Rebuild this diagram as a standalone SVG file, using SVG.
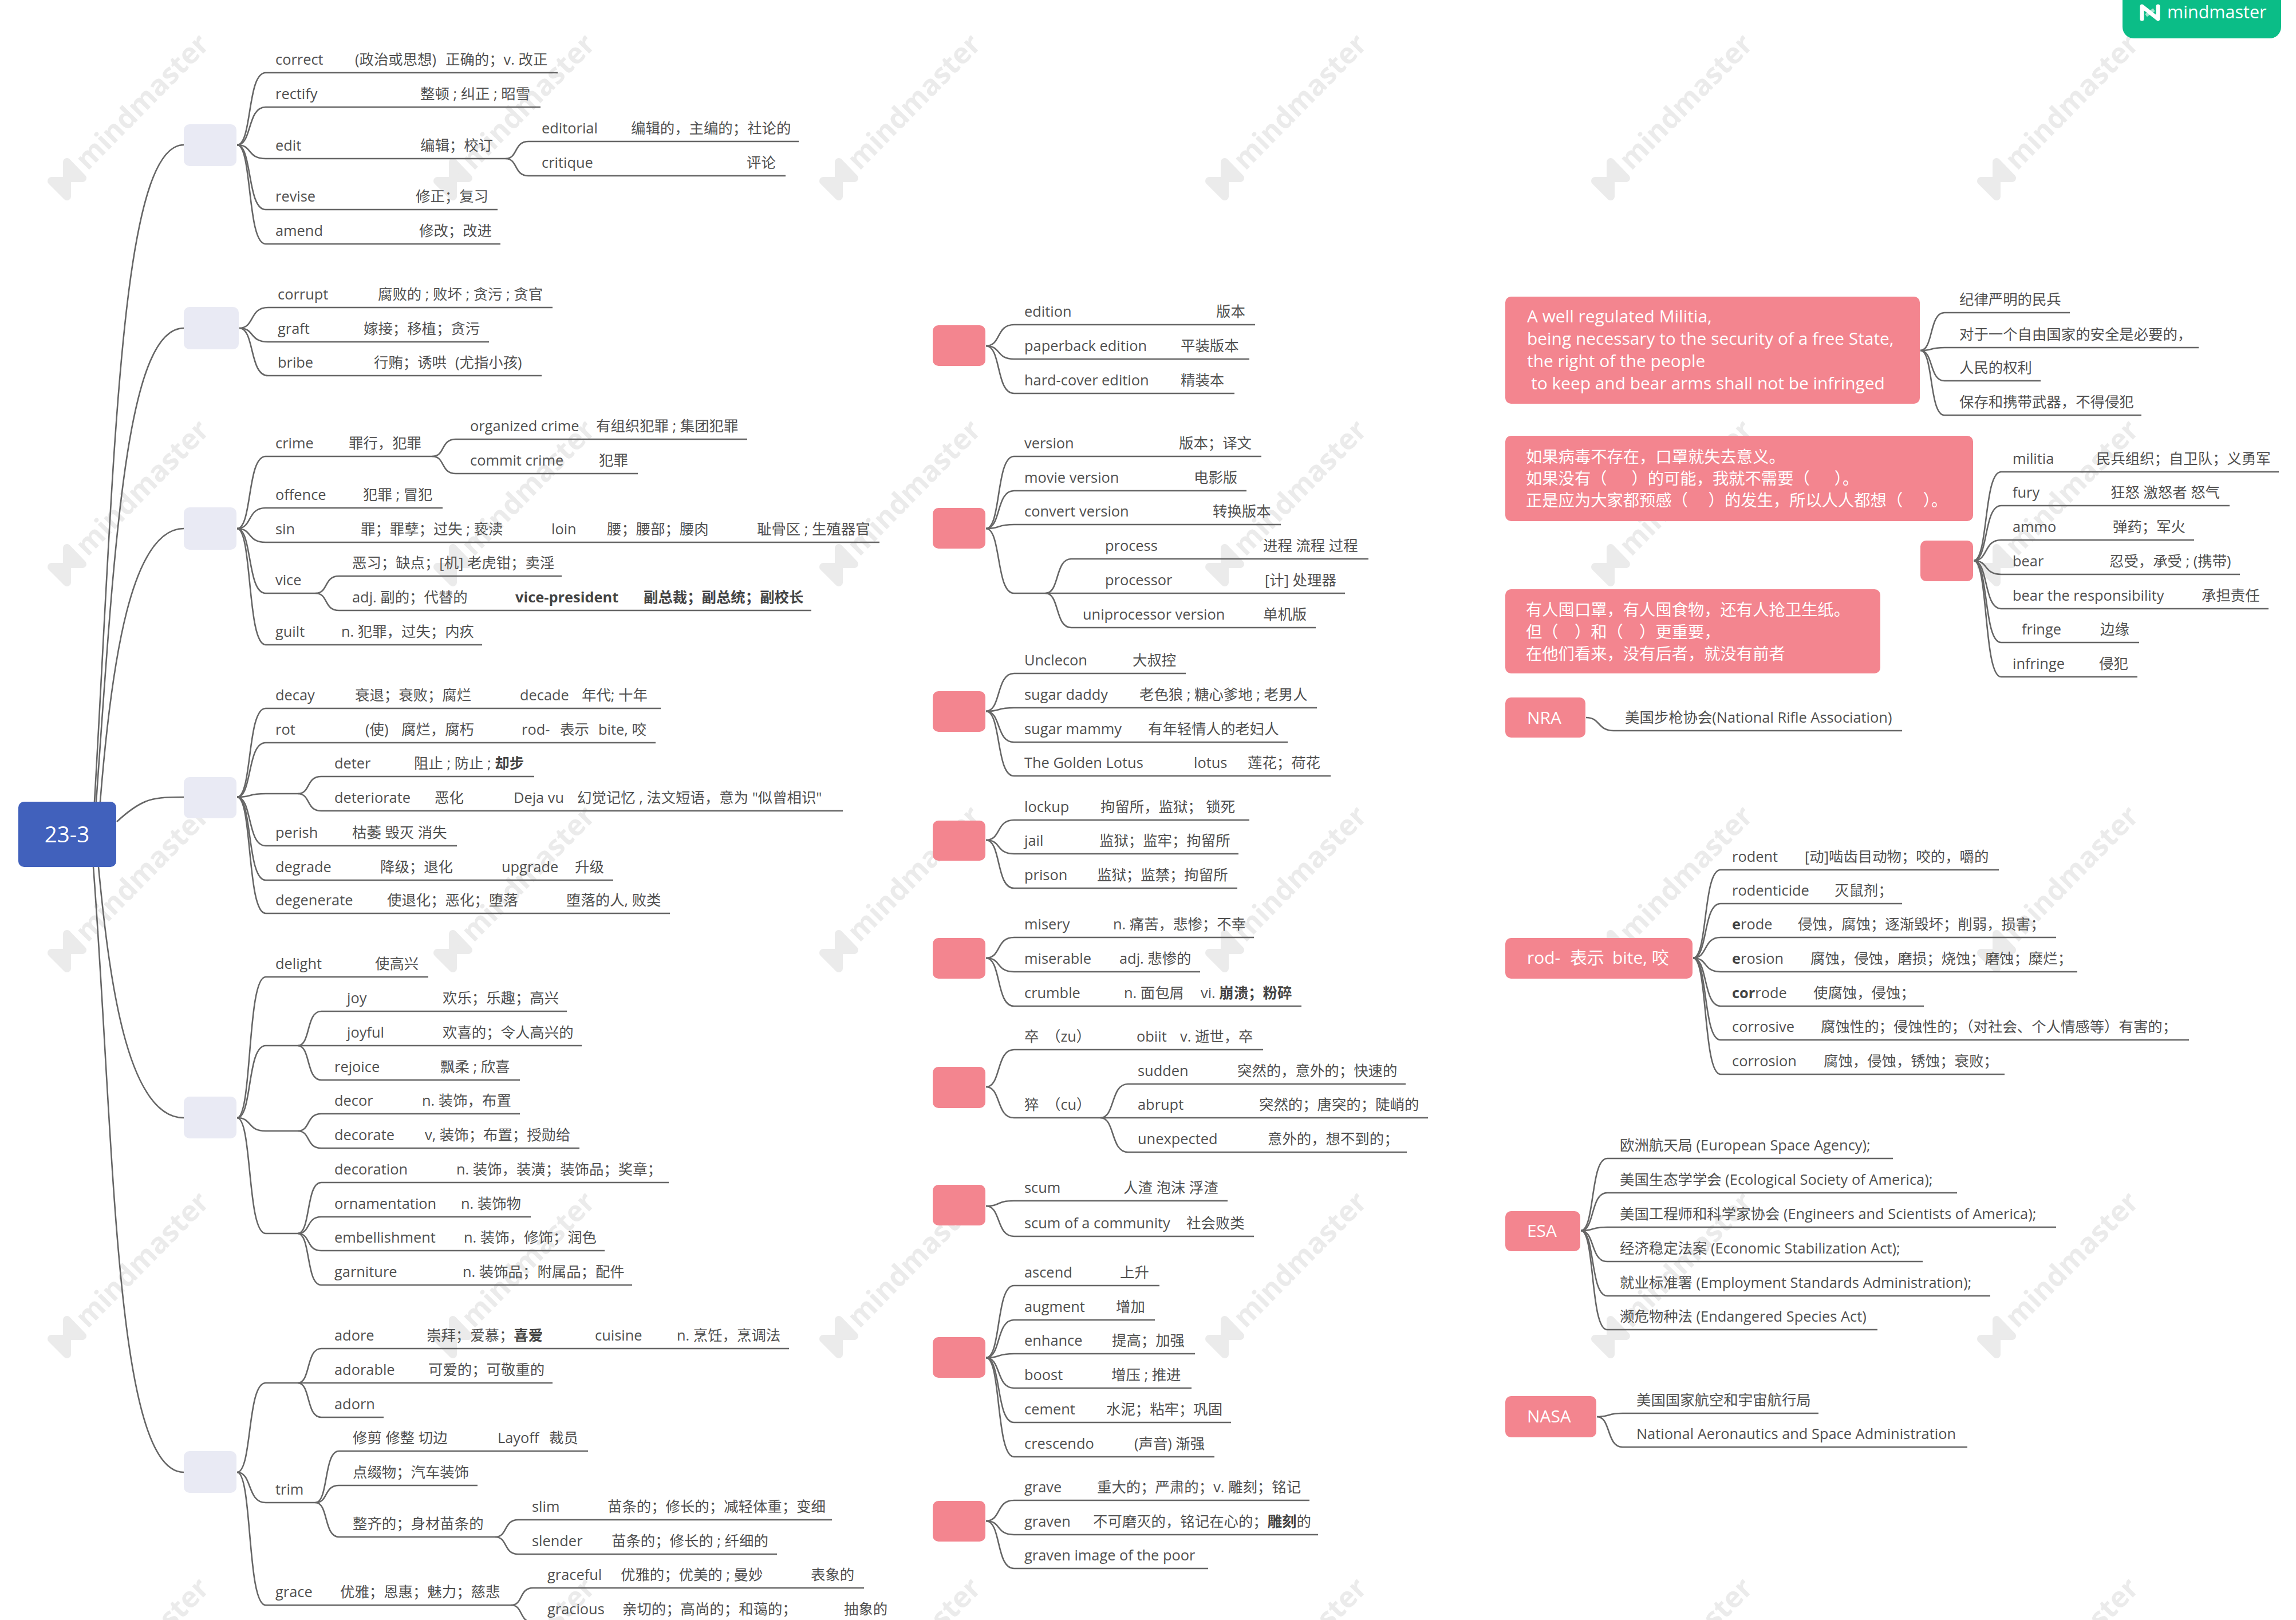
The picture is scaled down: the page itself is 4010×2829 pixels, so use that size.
<svg xmlns="http://www.w3.org/2000/svg" width="4010" height="2829" viewBox="0 0 4010 2829">
<style>
text{font-family:"Open Sans","Noto Sans CJK SC",sans-serif;font-size:25.4px;fill:#505050;transform:translateY(-1px)}
.b{font-weight:700;fill:#444}
text.w{font-size:28.3px;fill:#fff;transform:none}
text.w2{font-size:29.9px;fill:#fff;transform:none}
text.r{font-size:38.5px;fill:#fff;transform:none}
.l{fill:none;stroke:#666;stroke-width:2.6}
.g{fill:#e9eaf4}
.p{fill:#f3858f}
text.wm{font-size:50px;font-weight:700;fill:#ebebeb}
.wi{fill:#ebebeb;stroke:#ebebeb;stroke-width:14;stroke-linejoin:round}
</style>
<defs>
<g id="wm"><text class="wm" style="transform:translate(36px,-13px) rotate(-45.5deg)">mindmaster</text><path class="wi" d="M0-29L27-1H0ZM-27 4H0V31Z"/></g>
</defs>
<rect width="4010" height="2829" fill="#fff"/>
<g id="watermark">
<use href="#wm" x="117" y="312"/><use href="#wm" x="791" y="312"/><use href="#wm" x="1465" y="312"/><use href="#wm" x="2139" y="312"/><use href="#wm" x="2813" y="312"/><use href="#wm" x="3487" y="312"/>
<use href="#wm" x="117" y="986"/><use href="#wm" x="791" y="986"/><use href="#wm" x="1465" y="986"/><use href="#wm" x="2139" y="986"/><use href="#wm" x="2813" y="986"/><use href="#wm" x="3487" y="986"/>
<use href="#wm" x="117" y="1660"/><use href="#wm" x="791" y="1660"/><use href="#wm" x="1465" y="1660"/><use href="#wm" x="2139" y="1660"/><use href="#wm" x="2813" y="1660"/><use href="#wm" x="3487" y="1660"/>
<use href="#wm" x="117" y="2334"/><use href="#wm" x="791" y="2334"/><use href="#wm" x="1465" y="2334"/><use href="#wm" x="2139" y="2334"/><use href="#wm" x="2813" y="2334"/><use href="#wm" x="3487" y="2334"/>
<use href="#wm" x="117" y="3008"/><use href="#wm" x="791" y="3008"/><use href="#wm" x="1465" y="3008"/><use href="#wm" x="2139" y="3008"/><use href="#wm" x="2813" y="3008"/><use href="#wm" x="3487" y="3008"/>
</g>
<g id="connectors" class="l">
<path d="M165 1400C200 800 210 253 321 253"/>
<path d="M168 1400C200 950 220 573 321 573"/>
<path d="M175 1400C195 1150 230 923 321 923"/>
<path d="M204 1435C250 1392 270 1392 321 1392"/>
<path d="M172 1514C190 1700 220 1952 321 1952"/>
<path d="M163 1514C200 2000 200 2571 321 2571"/>
<path d="M414 253C441 253 431 127 464 127H974"/>
<path d="M414 253C441 253 431 187 464 187H944"/>
<path d="M414 253C441 253 431 277 464 277H883"/>
<path d="M883 277C905 277 897 247 923 247H1395"/>
<path d="M883 277C905 277 897 307 923 307H1372"/>
<path d="M414 253C441 253 431 366 464 366H869"/>
<path d="M414 253C441 253 431 426 464 426H874"/>
<path d="M418 573C445 573 435 537 468 537H965"/>
<path d="M418 573C445 573 435 597 468 597H854"/>
<path d="M418 573C445 573 435 656 468 656H946"/>
<path d="M414 923C441 923 431 797 464 797H755"/>
<path d="M755 797C778 797 769 767 796 767H1305"/>
<path d="M755 797C778 797 769 827 796 827H1114"/>
<path d="M414 923C441 923 431 887 464 887H773"/>
<path d="M414 923C441 923 431 947 464 947H1536"/>
<path d="M414 923C441 923 431 1036 464 1036H551"/>
<path d="M551 1036C574 1036 565 1006 592 1006H981"/>
<path d="M551 1036C574 1036 565 1066 592 1066H1417"/>
<path d="M414 923C441 923 431 1126 464 1126H842"/>
<path d="M414 1392C441 1392 431 1237 464 1237H1154"/>
<path d="M414 1392C441 1392 431 1297 464 1297H1145"/>
<path d="M414 1392C441 1392 431 1386 464 1386H520"/>
<path d="M520 1386C543 1386 534 1356 561 1356H933"/>
<path d="M520 1386C543 1386 534 1416 561 1416H1472"/>
<path d="M414 1392C441 1392 431 1477 464 1477H798"/>
<path d="M414 1392C441 1392 431 1537 464 1537H1071"/>
<path d="M414 1392C441 1392 431 1595 464 1595H1170"/>
<path d="M414 1952C441 1952 431 1706 464 1706H748"/>
<path d="M414 1952C441 1952 431 1826 464 1826H520"/>
<path d="M520 1826C543 1826 534 1766 561 1766H990"/>
<path d="M520 1826H1016"/>
<path d="M520 1826C543 1826 534 1886 561 1886H908"/>
<path d="M414 1952C441 1952 431 1975 464 1975H520"/>
<path d="M520 1975C543 1975 534 1945 561 1945H908"/>
<path d="M520 1975C543 1975 534 2005 561 2005H1012"/>
<path d="M414 1952C441 1952 431 2154 464 2154H520"/>
<path d="M520 2154C543 2154 534 2065 561 2065H1168"/>
<path d="M520 2154C543 2154 534 2125 561 2125H927"/>
<path d="M520 2154C543 2154 534 2184 561 2184H1056"/>
<path d="M520 2154C543 2154 534 2244 561 2244H1104"/>
<path d="M414 2571C441 2571 431 2415 464 2415H520"/>
<path d="M520 2415C543 2415 534 2355 561 2355H1378"/>
<path d="M520 2415H965"/>
<path d="M520 2415C543 2415 534 2475 561 2475H670"/>
<path d="M414 2571C441 2571 431 2624 464 2624H551"/>
<path d="M551 2624C574 2624 565 2534 592 2534H1027"/>
<path d="M551 2624C574 2624 565 2594 592 2594H834"/>
<path d="M551 2624C574 2624 565 2684 592 2684H865"/>
<path d="M865 2684C887 2684 879 2654 905 2654H1453"/>
<path d="M865 2684C887 2684 879 2714 905 2714H1357"/>
<path d="M414 2571C441 2571 431 2803 464 2803H893"/>
<path d="M893 2803C914 2803 906 2773 931 2773H1509"/>
<path d="M893 2803C914 2803 906 2833 931 2833H1560"/>
<path d="M1722 604C1749 604 1739 567 1771 567H2192"/>
<path d="M1722 604C1749 604 1739 627 1771 627H2182"/>
<path d="M1722 604C1749 604 1739 687 1771 687H2156"/>
<path d="M1722 923C1749 923 1739 797 1771 797H2203"/>
<path d="M1722 923C1749 923 1739 857 1771 857H2177"/>
<path d="M1722 923C1749 923 1739 916 1771 916H2237"/>
<path d="M1722 923C1749 923 1739 1036 1771 1036H1826"/>
<path d="M1826 1036C1851 1036 1842 976 1871 976H2390"/>
<path d="M1826 1036H2349"/>
<path d="M1826 1036C1851 1036 1842 1096 1871 1096H2298"/>
<path d="M1722 1242C1749 1242 1739 1176 1771 1176H2071"/>
<path d="M1722 1242C1749 1242 1739 1236 1771 1236H2300"/>
<path d="M1722 1242C1749 1242 1739 1296 1771 1296H2249"/>
<path d="M1722 1242C1749 1242 1739 1355 1771 1355H2324"/>
<path d="M1722 1467C1749 1467 1739 1432 1771 1432H2182"/>
<path d="M1722 1467C1749 1467 1739 1491 1771 1491H2163"/>
<path d="M1722 1467C1749 1467 1739 1551 1771 1551H2161"/>
<path d="M1722 1673C1749 1673 1739 1637 1771 1637H2190"/>
<path d="M1722 1673C1749 1673 1739 1697 1771 1697H2096"/>
<path d="M1722 1673C1749 1673 1739 1757 1771 1757H2273"/>
<path d="M1722 1898C1749 1898 1739 1833 1771 1833H2206"/>
<path d="M1722 1898C1749 1898 1739 1952 1771 1952H1922"/>
<path d="M1922 1952C1948 1952 1939 1893 1970 1893H2455"/>
<path d="M1922 1952H2494"/>
<path d="M1922 1952C1948 1952 1939 2012 1970 2012H2457"/>
<path d="M1722 2106C1749 2106 1739 2097 1771 2097H2144"/>
<path d="M1722 2106C1749 2106 1739 2159 1771 2159H2190"/>
<path d="M1722 2371C1749 2371 1739 2245 1771 2245H2025"/>
<path d="M1722 2371C1749 2371 1739 2305 1771 2305H2017"/>
<path d="M1722 2371C1749 2371 1739 2364 1771 2364H2087"/>
<path d="M1722 2371C1749 2371 1739 2424 1771 2424H2081"/>
<path d="M1722 2371C1749 2371 1739 2484 1771 2484H2150"/>
<path d="M1722 2371C1749 2371 1739 2544 1771 2544H2121"/>
<path d="M1722 2656C1749 2656 1739 2620 1771 2620H2287"/>
<path d="M1722 2656C1749 2656 1739 2680 1771 2680H2302"/>
<path d="M1722 2656C1749 2656 1739 2739 1771 2739H2110"/>
<path d="M3354 612C3377 612 3369 546 3396 546H3615"/>
<path d="M3354 612C3377 612 3369 607 3396 607H3840"/>
<path d="M3354 612C3377 612 3369 665 3396 665H3564"/>
<path d="M3354 612C3377 612 3369 725 3396 725H3740"/>
<path d="M3447 979C3473 979 3464 824 3495 824H3980"/>
<path d="M3447 979C3473 979 3464 883 3495 883H3894"/>
<path d="M3447 979C3473 979 3464 943 3495 943H3832"/>
<path d="M3447 979C3473 979 3464 1003 3495 1003H3912"/>
<path d="M3447 979C3473 979 3464 1063 3495 1063H3962"/>
<path d="M3447 979C3473 979 3464 1122 3495 1122H3736"/>
<path d="M3447 979C3473 979 3464 1182 3495 1182H3733"/>
<path d="M2770 1253C2795 1253 2790 1276 2818 1276H3322"/>
<path d="M2957 1673C2983 1673 2974 1519 3005 1519H3491"/>
<path d="M2957 1673C2983 1673 2974 1578 3005 1578H3322"/>
<path d="M2957 1673C2983 1673 2974 1637 3005 1637H3591"/>
<path d="M2957 1673C2983 1673 2974 1697 3005 1697H3628"/>
<path d="M2957 1673C2983 1673 2974 1757 3005 1757H3360"/>
<path d="M2957 1673C2983 1673 2974 1816 3005 1816H3823"/>
<path d="M2957 1673C2983 1673 2974 1876 3005 1876H3501"/>
<path d="M2761 2149C2786 2149 2777 2023 2807 2023H3306"/>
<path d="M2761 2149C2786 2149 2777 2083 2807 2083H3418"/>
<path d="M2761 2149C2786 2149 2777 2143 2807 2143H3591"/>
<path d="M2761 2149C2786 2149 2777 2203 2807 2203H3358"/>
<path d="M2761 2149C2786 2149 2777 2263 2807 2263H3476"/>
<path d="M2761 2149C2786 2149 2777 2322 2807 2322H3279"/>
<path d="M2789 2474C2814 2474 2805 2468 2834 2468H3176"/>
<path d="M2789 2474C2814 2474 2805 2527 2834 2527H3436"/>
</g>
<g id="root"><rect x="32" y="1400" width="171" height="114" rx="10" fill="#4161bc"/><text class="r" x="117" y="1471" text-anchor="middle">23-3</text></g>
<g id="g1"><rect class="g" x="321" y="217" width="92" height="73" rx="10"/></g>
<g id="g2"><rect class="g" x="321" y="536" width="96" height="74" rx="10"/></g>
<g id="g3"><rect class="g" x="321" y="886" width="92" height="74" rx="10"/></g>
<g id="g4"><rect class="g" x="321" y="1357" width="92" height="72" rx="10"/></g>
<g id="g5"><rect class="g" x="321" y="1915" width="92" height="73" rx="10"/></g>
<g id="g6"><rect class="g" x="321" y="2534" width="92" height="73" rx="10"/></g>
<g id="correct"><text x="481" y="114">correct<tspan x="620">(政治或思想)</tspan><tspan x="778">正确的；v. 改正</tspan></text></g>
<g id="rectify"><text x="481" y="174">rectify<tspan x="734">整顿 ; 纠正 ; 昭雪</tspan></text></g>
<g id="edit"><text x="481" y="264">edit<tspan x="734">编辑；校订</tspan></text></g>
<g id="editorial"><text x="946" y="234">editorial<tspan x="1102">编辑的，主编的；社论的</tspan></text></g>
<g id="critique"><text x="946" y="294">critique<tspan x="1304">评论</tspan></text></g>
<g id="revise"><text x="481" y="353">revise<tspan x="726">修正；复习</tspan></text></g>
<g id="amend"><text x="481" y="413">amend<tspan x="732">修改；改进</tspan></text></g>
<g id="corrupt"><text x="485" y="524">corrupt<tspan x="660">腐败的 ; 败坏 ; 贪污 ; 贪官</tspan></text></g>
<g id="graft"><text x="485" y="584">graft<tspan x="635">嫁接；移植；贪污</tspan></text></g>
<g id="bribe"><text x="485" y="643">bribe<tspan x="653">行贿；诱哄</tspan><tspan x="795">(尤指小孩)</tspan></text></g>
<g id="crime"><text x="481" y="784">crime<tspan x="609">罪行，犯罪</tspan></text></g>
<g id="organized-crime"><text x="821" y="754">organized crime<tspan x="1041">有组织犯罪 ; 集团犯罪</tspan></text></g>
<g id="commit-crime"><text x="821" y="814">commit crime<tspan x="1046">犯罪</tspan></text></g>
<g id="offence"><text x="481" y="874">offence<tspan x="634">犯罪 ; 冒犯</tspan></text></g>
<g id="sin"><text x="481" y="934">sin<tspan x="630">罪；罪孽；过失 ; 亵渎</tspan><tspan x="963">loin</tspan><tspan x="1060">腰；腰部；腰肉</tspan><tspan x="1322">耻骨区 ; 生殖器官</tspan></text></g>
<g id="vice"><text x="481" y="1023">vice</text></g>
<g id="vice-a"><text x="615" y="993">恶习；缺点；[机] 老虎钳；卖淫</text></g>
<g id="vice-b"><text x="615" y="1053">adj. 副的；代替的<tspan class="b" x="900">vice-president</tspan><tspan class="b" x="1124">副总裁；副总统；副校长</tspan></text></g>
<g id="guilt"><text x="481" y="1113">guilt<tspan x="596">n. 犯罪，过失；内疚</tspan></text></g>
<g id="decay"><text x="481" y="1224">decay<tspan x="620">衰退；衰败；腐烂</tspan><tspan x="908">decade</tspan><tspan x="1016">年代; 十年</tspan></text></g>
<g id="rot"><text x="481" y="1284">rot<tspan x="638">(使)</tspan><tspan x="701">腐烂，腐朽</tspan><tspan x="911">rod-</tspan><tspan x="978">表示</tspan><tspan x="1045">bite, 咬</tspan></text></g>
<g id="deter"><text x="584" y="1343">deter<tspan x="723">阻止 ; 防止 ; </tspan><tspan class="b">却步</tspan></text></g>
<g id="deteriorate"><text x="584" y="1403">deteriorate<tspan x="759">恶化</tspan><tspan x="897">Deja vu</tspan><tspan x="1008">幻觉记忆 , 法文短语，意为 "似曾相识"</tspan></text></g>
<g id="perish"><text x="481" y="1464">perish<tspan x="615">枯萎 毁灭 消失</tspan></text></g>
<g id="degrade"><text x="481" y="1524">degrade<tspan x="664">降级；退化</tspan><tspan x="876">upgrade</tspan><tspan x="1004">升级</tspan></text></g>
<g id="degenerate"><text x="481" y="1582">degenerate<tspan x="676">使退化；恶化；堕落</tspan><tspan x="989">堕落的人, 败类</tspan></text></g>
<g id="delight"><text x="481" y="1693">delight<tspan x="655">使高兴</tspan></text></g>
<g id="joy"><text x="606" y="1753">joy<tspan x="773">欢乐；乐趣；高兴</tspan></text></g>
<g id="joyful"><text x="606" y="1813">joyful<tspan x="773">欢喜的；令人高兴的</tspan></text></g>
<g id="rejoice"><text x="584" y="1873">rejoice<tspan x="769">飘柔 ; 欣喜</tspan></text></g>
<g id="decor"><text x="584" y="1932">decor<tspan x="737">n. 装饰，布置</tspan></text></g>
<g id="decorate"><text x="584" y="1992">decorate<tspan x="742">v, 装饰；布置；授勋给</tspan></text></g>
<g id="decoration"><text x="584" y="2052">decoration<tspan x="797">n. 装饰，装潢；装饰品；奖章；</tspan></text></g>
<g id="ornamentation"><text x="584" y="2112">ornamentation<tspan x="805">n. 装饰物</tspan></text></g>
<g id="embellishment"><text x="584" y="2171">embellishment<tspan x="810">n. 装饰，修饰；润色</tspan></text></g>
<g id="garniture"><text x="584" y="2231">garniture<tspan x="808">n. 装饰品；附属品；配件</tspan></text></g>
<g id="adore"><text x="584" y="2342">adore<tspan x="745">崇拜；爱慕；</tspan><tspan class="b">喜爱</tspan><tspan x="1039">cuisine</tspan><tspan x="1182">n. 烹饪，烹调法</tspan></text></g>
<g id="adorable"><text x="584" y="2402">adorable<tspan x="748">可爱的；可敬重的</tspan></text></g>
<g id="adorn"><text x="584" y="2462">adorn</text></g>
<g id="trim"><text x="481" y="2611">trim</text></g>
<g id="trim-a"><text x="616" y="2521">修剪 修整 切边<tspan x="869">Layoff</tspan><tspan x="959">裁员</tspan></text></g>
<g id="trim-b"><text x="616" y="2581">点缀物；汽车装饰</text></g>
<g id="trim-c"><text x="616" y="2671">整齐的；身材苗条的</text></g>
<g id="slim"><text x="929" y="2641">slim<tspan x="1061">苗条的；修长的；减轻体重；变细</tspan></text></g>
<g id="slender"><text x="929" y="2701">slender<tspan x="1068">苗条的；修长的 ; 纤细的</tspan></text></g>
<g id="grace"><text x="481" y="2790">grace<tspan x="594">优雅；恩惠；魅力；慈悲</tspan></text></g>
<g id="graceful"><text x="956" y="2760">graceful<tspan x="1084">优雅的；优美的 ; 曼妙</tspan><tspan x="1416">表象的</tspan></text></g>
<g id="gracious"><text x="956" y="2820">gracious<tspan x="1087">亲切的；高尚的；和蔼的；</tspan><tspan x="1474">抽象的</tspan></text></g>
<g id="m1"><rect class="p" x="1629" y="568" width="92" height="71" rx="10"/></g>
<g id="m2"><rect class="p" x="1629" y="887" width="92" height="71" rx="10"/></g>
<g id="m3"><rect class="p" x="1629" y="1207" width="92" height="71" rx="10"/></g>
<g id="m4"><rect class="p" x="1629" y="1433" width="92" height="70" rx="10"/></g>
<g id="m5"><rect class="p" x="1629" y="1638" width="92" height="71" rx="10"/></g>
<g id="m6"><rect class="p" x="1629" y="1863" width="92" height="72" rx="10"/></g>
<g id="m7"><rect class="p" x="1629" y="2069" width="92" height="71" rx="10"/></g>
<g id="m8"><rect class="p" x="1629" y="2335" width="92" height="71" rx="10"/></g>
<g id="m9"><rect class="p" x="1629" y="2621" width="92" height="71" rx="10"/></g>
<g id="edition"><text x="1789" y="554">edition<tspan x="2124">版本</tspan></text></g>
<g id="paperback"><text x="1789" y="614">paperback edition<tspan x="2062">平装版本</tspan></text></g>
<g id="hard-cover"><text x="1789" y="674">hard-cover edition<tspan x="2062">精装本</tspan></text></g>
<g id="version"><text x="1789" y="784">version<tspan x="2059">版本；译文</tspan></text></g>
<g id="movie"><text x="1789" y="844">movie version<tspan x="2085">电影版</tspan></text></g>
<g id="convert"><text x="1789" y="903">convert version<tspan x="2118">转换版本</tspan></text></g>
<g id="process"><text x="1930" y="963">process<tspan x="2206">进程 流程 过程</tspan></text></g>
<g id="processor"><text x="1930" y="1023">processor<tspan x="2209">[计] 处理器</tspan></text></g>
<g id="uniprocessor"><text x="1891" y="1083">uniprocessor version<tspan x="2206">单机版</tspan></text></g>
<g id="unclecon"><text x="1789" y="1163">Unclecon<tspan x="1978">大叔控</tspan></text></g>
<g id="sugar-daddy"><text x="1789" y="1223">sugar daddy<tspan x="1990">老色狼 ; 糖心爹地 ; 老男人</tspan></text></g>
<g id="sugar-mammy"><text x="1789" y="1283">sugar mammy<tspan x="2005">有年轻情人的老妇人</tspan></text></g>
<g id="golden-lotus"><text x="1789" y="1342">The Golden Lotus<tspan x="2085">lotus</tspan><tspan x="2179">莲花；荷花</tspan></text></g>
<g id="lockup"><text x="1789" y="1419">lockup<tspan x="1922">拘留所，监狱； 锁死</tspan></text></g>
<g id="jail"><text x="1789" y="1478">jail<tspan x="1920">监狱；监牢；拘留所</tspan></text></g>
<g id="prison"><text x="1789" y="1538">prison<tspan x="1916">监狱；监禁；拘留所</tspan></text></g>
<g id="misery"><text x="1789" y="1624">misery<tspan x="1944">n. 痛苦，悲惨；不幸</tspan></text></g>
<g id="miserable"><text x="1789" y="1684">miserable<tspan x="1955">adj. 悲惨的</tspan></text></g>
<g id="crumble"><text x="1789" y="1744">crumble<tspan x="1963">n. 面包屑</tspan><tspan x="2097">vi. </tspan><tspan class="b">崩溃；粉碎</tspan></text></g>
<g id="zu"><text x="1789" y="1820">卒<tspan x="1827">（zu）</tspan><tspan x="1985">obiit</tspan><tspan x="2061">v. 逝世，卒</tspan></text></g>
<g id="cu"><text x="1789" y="1939">猝<tspan x="1827">（cu）</tspan></text></g>
<g id="sudden"><text x="1987" y="1880">sudden<tspan x="2161">突然的，意外的；快速的</tspan></text></g>
<g id="abrupt"><text x="1987" y="1939">abrupt<tspan x="2199">突然的；唐突的；陡峭的</tspan></text></g>
<g id="unexpected"><text x="1987" y="1999">unexpected<tspan x="2214">意外的，想不到的；</tspan></text></g>
<g id="scum"><text x="1789" y="2084">scum<tspan x="1962">人渣 泡沫 浮渣</tspan></text></g>
<g id="scum-community"><text x="1789" y="2146">scum of a community<tspan x="2072">社会败类</tspan></text></g>
<g id="ascend"><text x="1789" y="2232">ascend<tspan x="1956">上升</tspan></text></g>
<g id="augment"><text x="1789" y="2292">augment<tspan x="1949">增加</tspan></text></g>
<g id="enhance"><text x="1789" y="2351">enhance<tspan x="1942">提高；加强</tspan></text></g>
<g id="boost"><text x="1789" y="2411">boost<tspan x="1941">增压 ; 推进</tspan></text></g>
<g id="cement"><text x="1789" y="2471">cement<tspan x="1932">水泥；粘牢；巩固</tspan></text></g>
<g id="crescendo"><text x="1789" y="2531">crescendo<tspan x="1981">(声音) 渐强</tspan></text></g>
<g id="grave"><text x="1789" y="2607">grave<tspan x="1916">重大的；严肃的；v. 雕刻；铭记</tspan></text></g>
<g id="graven"><text x="1789" y="2667">graven<tspan x="1909">不可磨灭的，铭记在心的；</tspan><tspan class="b">雕刻</tspan>的</text></g>
<g id="graven-image"><text x="1789" y="2726">graven image of the poor</text></g>
<g id="logo"><path d="M3707 0H3984V47A20 20 0 0 1 3964 67H3727A20 20 0 0 1 3707 47Z" fill="#0bbd87"/><path d="M3748 27L3762 17" stroke="#9fe3cc" stroke-width="6" fill="none"/><path d="M3741 33V11L3769 33V11" stroke="#fff" stroke-width="7" stroke-linejoin="round" stroke-linecap="round" fill="none"/><text x="3785" y="33" style="font-size:30.5px;fill:#fff">mindmaster</text></g>
<g id="r1"><rect class="p" x="2629" y="518" width="724" height="187" rx="10"/><text class="w2" x="2667" y="563">A well regulated Militia,</text><text class="w2" x="2667" y="602">being necessary to the security of a free State,</text><text class="w2" x="2667" y="641">the right of the people</text><text class="w2" x="2674" y="680">to keep and bear arms shall not be infringed</text></g>
<g id="r1a"><text x="3422" y="533">纪律严明的民兵</text></g>
<g id="r1b"><text x="3422" y="594">对于一个自由国家的安全是必要的，</text></g>
<g id="r1c"><text x="3422" y="652">人民的权利</text></g>
<g id="r1d"><text x="3422" y="712">保存和携带武器，不得侵犯</text></g>
<g id="r2"><rect class="p" x="2629" y="761" width="817" height="149" rx="10"/><text class="w" x="2665" y="808">如果病毒不存在，口罩就失去意义。</text><text class="w" x="2665" y="846">如果没有（　&#160;&#160;）的可能，我就不需要（　&#160;&#160;）。</text><text class="w" x="2665" y="884">正是应为大家都预感（　&#160;）的发生，所以人人都想（　&#160;）。</text></g>
<g id="r3"><rect class="p" x="2629" y="1029" width="655" height="147" rx="10"/><text class="w" x="2665" y="1075">有人囤口罩，有人囤食物，还有人抢卫生纸。</text><text class="w" x="2665" y="1114">但（　）和（　）更重要，</text><text class="w" x="2665" y="1152">在他们看来，没有后者，就没有前者</text></g>
<g id="militia-node"><rect class="p" x="3354" y="944" width="92" height="71" rx="10"/></g>
<g id="militia"><text x="3515" y="811">militia<tspan x="3661">民兵组织；自卫队；义勇军</tspan></text></g>
<g id="fury"><text x="3515" y="870">fury<tspan x="3686">狂怒 激怒者 怒气</tspan></text></g>
<g id="ammo"><text x="3515" y="930">ammo<tspan x="3690">弹药；军火</tspan></text></g>
<g id="bear"><text x="3515" y="990">bear<tspan x="3684">忍受，承受 ; (携带)</tspan></text></g>
<g id="bear-resp"><text x="3515" y="1050">bear the responsibility<tspan x="3845">承担责任</tspan></text></g>
<g id="fringe"><text x="3531" y="1109">fringe<tspan x="3668">边缘</tspan></text></g>
<g id="infringe"><text x="3515" y="1169">infringe<tspan x="3666">侵犯</tspan></text></g>
<g id="nra"><rect class="p" x="2629" y="1218" width="140" height="70" rx="10"/><text class="w2" x="2667" y="1264">NRA</text></g>
<g id="nra-a"><text x="2838" y="1263">美国步枪协会(National Rifle Association)</text></g>
<g id="rod"><rect class="p" x="2629" y="1638" width="327" height="71" rx="10"/><text class="w2" x="2667" y="1683">rod-<tspan x="2742">表示</tspan><tspan x="2816">bite, 咬</tspan></text></g>
<g id="rodent"><text x="3025" y="1506">rodent<tspan x="3152">[动]啮齿目动物；咬的，嚼的</tspan></text></g>
<g id="rodenticide"><text x="3025" y="1565">rodenticide<tspan x="3204">灭鼠剂；</tspan></text></g>
<g id="erode"><text x="3025" y="1624"><tspan class="b">e</tspan>rode<tspan x="3140">侵蚀，腐蚀；逐渐毁坏；削弱，损害；</tspan></text></g>
<g id="erosion"><text x="3025" y="1684"><tspan class="b">e</tspan>rosion<tspan x="3162">腐蚀，侵蚀，磨损；烧蚀；磨蚀；糜烂；</tspan></text></g>
<g id="corrode"><text x="3025" y="1744"><tspan class="b">cor</tspan>rode<tspan x="3167">使腐蚀，侵蚀；</tspan></text></g>
<g id="corrosive"><text x="3025" y="1803">corrosive<tspan x="3180">腐蚀性的；侵蚀性的；（对社会、个人情感等）有害的；</tspan></text></g>
<g id="corrosion"><text x="3025" y="1863">corrosion<tspan x="3185">腐蚀，侵蚀，锈蚀；衰败；</tspan></text></g>
<g id="esa"><rect class="p" x="2629" y="2115" width="131" height="70" rx="10"/><text class="w2" x="2667" y="2160">ESA</text></g>
<g id="esa1"><text x="2829" y="2010">欧洲航天局 (European Space Agency);</text></g>
<g id="esa2"><text x="2829" y="2070">美国生态学学会 (Ecological Society of America);</text></g>
<g id="esa3"><text x="2829" y="2130">美国工程师和科学家协会 (Engineers and Scientists of America);</text></g>
<g id="esa4"><text x="2829" y="2190">经济稳定法案 (Economic Stabilization Act);</text></g>
<g id="esa5"><text x="2829" y="2250">就业标准署 (Employment Standards Administration);</text></g>
<g id="esa6"><text x="2829" y="2309">濒危物种法 (Endangered Species Act)</text></g>
<g id="nasa"><rect class="p" x="2629" y="2438" width="159" height="72" rx="10"/><text class="w2" x="2667" y="2484">NASA</text></g>
<g id="nasa1"><text x="2858" y="2455">美国国家航空和宇宙航行局</text></g>
<g id="nasa2"><text x="2858" y="2514">National Aeronautics and Space Administration</text></g>
</svg>
